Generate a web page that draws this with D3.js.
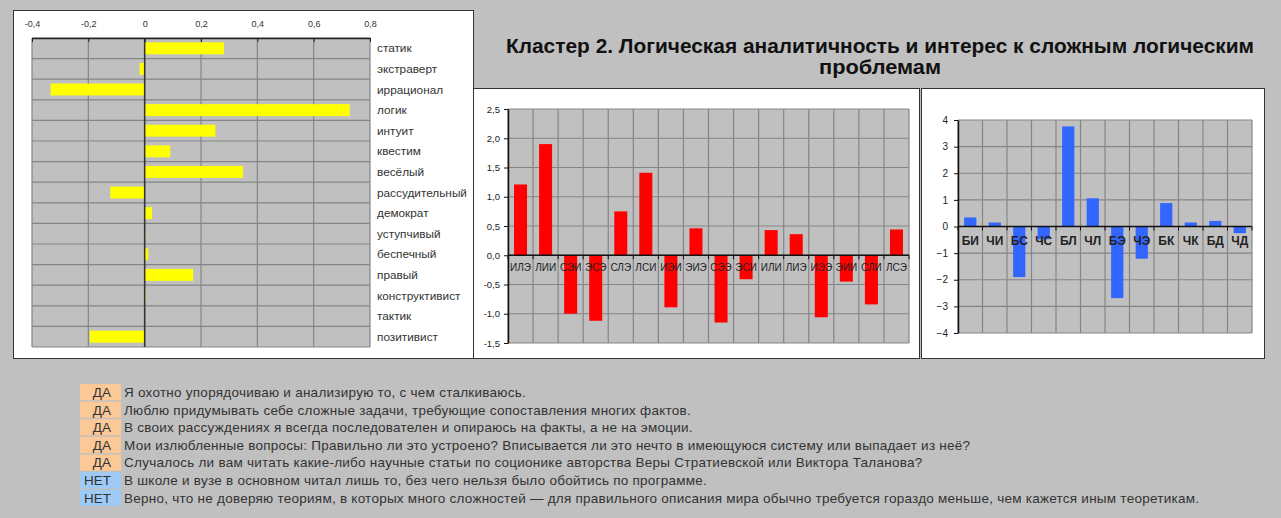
<!DOCTYPE html>
<html>
<head>
<meta charset="utf-8">
<script src="https://cdn.jsdelivr.net/npm/d3@7"></script>
<style>
  body { margin: 0; background: #c0c0c0; }
  svg { display: block; }
</style>
</head>
<body>
<div id="chart"></div>
<script>
(function () {
"use strict";

// Left chart: trait correlations
var traitLabels = ["статик", "экстраверт", "иррационал", "логик", "интуит", "квестим", "весёлый",
                   "рассудительный", "демократ", "уступчивый", "беспечный", "правый",
                   "конструктивист", "тактик", "позитивист"];
var traitValues = [0.282, -0.018, -0.334, 0.728, 0.251, 0.091, 0.349,
                   -0.122, 0.026, 0.002, 0.013, 0.172,
                   0.003, -0.002, -0.195];
var traitTicks = [-0.4, -0.2, 0, 0.2, 0.4, 0.6, 0.8];

// Middle chart: socionic types
var typeLabels = ["ИЛЭ", "ЛИИ", "СЭИ", "ЭСЭ", "СЛЭ", "ЛСИ", "ИЭИ", "ЭИЭ",
                  "СЭЭ", "ЭСИ", "ИЛИ", "ЛИЭ", "ИЭЭ", "ЭИИ", "СЛИ", "ЛСЭ"];
var typeValues = [1.21, 1.90, -1.00, -1.12, 0.75, 1.41, -0.89, 0.46,
                  -1.15, -0.41, 0.43, 0.36, -1.06, -0.45, -0.84, 0.44];
var typeTicks = [-1.5, -1.0, -0.5, 0, 0.5, 1.0, 1.5, 2.0, 2.5];

// Right chart: aspects
var aspectLabels = ["БИ", "ЧИ", "БС", "ЧС", "БЛ", "ЧЛ", "БЭ", "ЧЭ", "БК", "ЧК", "БД", "ЧД"];
var aspectValues = [0.34, 0.15, -1.90, -0.48, 3.76, 1.06, -2.69, -1.21, 0.88, 0.15, 0.21, -0.25];
var aspectTicks = [-4, -3, -2, -1, 0, 1, 2, 3, 4];

// Questionnaire answers
var answerLabels = ["ДА", "ДА", "ДА", "ДА", "ДА", "НЕТ", "НЕТ"];
var answerTexts = [
  "Я охотно упорядочиваю и анализирую то, с чем сталкиваюсь.",
  "Люблю придумывать себе сложные задачи, требующие сопоставления многих фактов.",
  "В своих рассуждениях я всегда последователен и опираюсь на факты, а не на эмоции.",
  "Мои излюбленные вопросы: Правильно ли это устроено? Вписывается ли это нечто в имеющуюся систему или выпадает из неё?",
  "Случалось ли вам читать какие-либо научные статьи по соционике авторства Веры Стратиевской или Виктора Таланова?",
  "В школе и вузе в основном читал лишь то, без чего нельзя было обойтись по программе.",
  "Верно, что не доверяю теориям, в которых много сложностей — для правильного описания мира обычно требуется гораздо меньше, чем кажется иным теоретикам."
];

var titleLines = ["Кластер 2. Логическая аналитичность и интерес к сложным логическим", "проблемам"];

var fontFamily = "Arial, 'Liberation Sans', sans-serif";
var gridColor = "#858585";
var plotBg = "#c0c0c0";

function commaFormat(fmt) {
  var f = d3.format(fmt);
  return function(d) { return f(d).replace(".", ",").replace("−", "-"); };
}

var svg = d3.select("#chart").append("svg")
  .attr("width", 1281)
  .attr("height", 518);

svg.append("rect")
  .attr("width", 1281)
  .attr("height", 518)
  .style("fill", "#c0c0c0");

////////////////////////////////////////////////////////////////////////////////
// Left chart
////////////////////////////////////////////////////////////////////////////////

var left = svg.append("g");

left.append("rect")
  .attr("x", 13.5).attr("y", 10.5)
  .attr("width", 460).attr("height", 348)
  .style("fill", "#fff")
  .style("stroke", "#333");

var tx = d3.scaleLinear().domain([-0.4, 0.8]).range([32, 370]);
var ty = d3.scaleBand().domain(traitLabels).range([38, 347])
  .paddingInner(0.42).paddingOuter(0.21);

left.append("rect")
  .attr("x", tx(-0.4)).attr("y", 38)
  .attr("width", tx(0.8) - tx(-0.4)).attr("height", 309)
  .style("fill", plotBg);

// horizontal grid at row boundaries
left.append("g").selectAll("line")
  .data(d3.range(0, traitLabels.length + 1))
  .enter().append("line")
    .attr("x1", tx(-0.4)).attr("x2", tx(0.8))
    .attr("y1", function(i) { return ty.range()[0] + i * ty.step(); })
    .attr("y2", function(i) { return ty.range()[0] + i * ty.step(); })
    .style("stroke", gridColor).style("stroke-width", 1.2);

// vertical grid
left.append("g").selectAll("line")
  .data(traitTicks)
  .enter().append("line")
    .attr("x1", function(d) { return tx(d); })
    .attr("x2", function(d) { return tx(d); })
    .attr("y1", 38).attr("y2", 347)
    .style("stroke", gridColor).style("stroke-width", 1.2);

left.append("g").selectAll("rect")
  .data(traitValues)
  .enter().append("rect")
    .attr("x", function(d) { return tx(Math.min(0, d)); })
    .attr("y", function(d, i) { return ty(traitLabels[i]); })
    .attr("width", function(d) { return Math.abs(tx(d) - tx(0)); })
    .attr("height", ty.bandwidth())
    .style("fill", "#ffff00");

left.append("line")
  .attr("x1", tx(0)).attr("x2", tx(0))
  .attr("y1", 38).attr("y2", 347)
  .style("stroke", "#333").style("stroke-width", 1.5);

var topAxis = left.append("g")
  .attr("transform", "translate(0,38)")
  .call(d3.axisTop(tx)
    .tickValues(traitTicks)
    .tickFormat(function(d) { return d === 0 ? "0" : commaFormat(".1f")(d); })
    .tickSizeInner(-4)
    .tickSizeOuter(0)
    .tickPadding(11));
topAxis.select(".domain").style("stroke", "#222").style("stroke-width", 1.5);
topAxis.selectAll(".tick line").style("stroke", "#222");
topAxis.selectAll("text")
  .style("font-family", fontFamily).style("font-size", "9px").style("fill", "#333");

left.append("g").selectAll("text")
  .data(traitLabels)
  .enter().append("text")
    .attr("x", 377)
    .attr("y", function(d) { return ty(d) + ty.bandwidth() / 2; })
    .attr("dy", "0.35em")
    .style("font-family", fontFamily)
    .style("font-size", "11.8px")
    .style("fill", "#333")
    .text(function(d) { return d; });

////////////////////////////////////////////////////////////////////////////////
// Title
////////////////////////////////////////////////////////////////////////////////

svg.append("g").selectAll("text")
  .data(titleLines)
  .enter().append("text")
    .attr("x", 880)
    .attr("y", function(d, i) { return 53 + i * 21; })
    .attr("text-anchor", "middle")
    .attr("textLength", function(d, i) { return i === 0 ? 748 : 122; })
    .attr("lengthAdjust", "spacingAndGlyphs")
    .style("font-family", "'Liberation Sans Narrow', " + fontFamily)
    .style("font-weight", "bold")
    .style("font-size", "20px")
    .style("fill", "#111")
    .text(function(d) { return d; });

////////////////////////////////////////////////////////////////////////////////
// Vertical bar chart helper
////////////////////////////////////////////////////////////////////////////////

function columnChart(opts) {
  var g = svg.append("g");

  g.append("rect")
    .attr("x", opts.box[0] + 0.5).attr("y", opts.box[1] + 0.5)
    .attr("width", opts.box[2]).attr("height", opts.box[3])
    .style("fill", "#fff")
    .style("stroke", "#333");

  var x = d3.scaleBand().domain(opts.labels).range([opts.x0, opts.x1])
    .paddingInner(opts.pad).paddingOuter(opts.pad / 2);
  var y = d3.scaleLinear().domain(d3.extent(opts.ticks)).range([opts.y1, opts.y0]);

  g.append("rect")
    .attr("x", opts.x0).attr("y", opts.y0)
    .attr("width", opts.x1 - opts.x0).attr("height", opts.y1 - opts.y0)
    .style("fill", plotBg);

  var bounds = d3.range(0, opts.labels.length + 1).map(function(i) {
    return opts.x0 + i * x.step();
  });

  g.append("g").selectAll("line")
    .data(opts.ticks)
    .enter().append("line")
      .attr("x1", opts.x0).attr("x2", opts.x1)
      .attr("y1", function(d) { return y(d); })
      .attr("y2", function(d) { return y(d); })
      .style("stroke", gridColor).style("stroke-width", 1.2);

  g.append("g").selectAll("line")
    .data(bounds)
    .enter().append("line")
      .attr("x1", function(d) { return d; })
      .attr("x2", function(d) { return d; })
      .attr("y1", opts.y0).attr("y2", opts.y1)
      .style("stroke", gridColor).style("stroke-width", 1.2);

  g.append("g").selectAll("rect")
    .data(opts.values)
    .enter().append("rect")
      .attr("x", function(d, i) { return x(opts.labels[i]); })
      .attr("y", function(d) { return y(Math.max(0, d)); })
      .attr("width", x.bandwidth())
      .attr("height", function(d) { return Math.abs(y(d) - y(0)); })
      .style("fill", opts.color);

  var yAxis = g.append("g")
    .attr("transform", "translate(" + opts.x0 + ",0)")
    .call(d3.axisLeft(y)
      .tickValues(opts.ticks)
      .tickFormat(opts.fmt)
      .tickSizeInner(4)
      .tickSizeOuter(0)
      .tickPadding(opts.tickPad));
  yAxis.select(".domain").style("stroke", "#111").style("stroke-width", 1.5);
  yAxis.selectAll(".tick line").style("stroke", "#111");
  yAxis.selectAll("text")
    .style("font-family", fontFamily).style("font-size", opts.tickFont).style("fill", "#222");

  // zero axis with ticks at band boundaries
  g.append("line")
    .attr("x1", opts.x0).attr("x2", opts.x1)
    .attr("y1", y(0)).attr("y2", y(0))
    .style("stroke", "#111").style("stroke-width", 1.5);

  g.append("g").selectAll("line")
    .data(bounds)
    .enter().append("line")
      .attr("x1", function(d) { return d; })
      .attr("x2", function(d) { return d; })
      .attr("y1", y(0)).attr("y2", y(0) + 4)
      .style("stroke", "#111");

  g.append("g").selectAll("text")
    .data(opts.labels)
    .enter().append("text")
      .attr("x", function(d) { return x(d) + x.bandwidth() / 2; })
      .attr("y", y(0) + opts.labelDy)
      .attr("text-anchor", "middle")
      .style("font-family", fontFamily)
      .style("font-size", opts.labelFont)
      .style("font-weight", opts.labelWeight)
      .style("fill", "#222")
      .text(function(d) { return d; });
}

columnChart({
  box: [473, 88, 446, 270],
  x0: 508, x1: 909, y0: 109, y1: 343,
  labels: typeLabels, values: typeValues, ticks: typeTicks,
  pad: 0.48, color: "#ff0000",
  fmt: commaFormat(".1f"), tickPad: 4, tickFont: "9.5px",
  labelDy: 16, labelFont: "10px", labelWeight: "normal"
});

columnChart({
  box: [921, 88, 343, 270],
  x0: 958, x1: 1252, y0: 120, y1: 333,
  labels: aspectLabels, values: aspectValues, ticks: aspectTicks,
  pad: 0.5, color: "#3366ff",
  fmt: d3.format("d"), tickPad: 6, tickFont: "10px",
  labelDy: 18, labelFont: "12px", labelWeight: "bold"
});

////////////////////////////////////////////////////////////////////////////////
// Answers
////////////////////////////////////////////////////////////////////////////////

var rowY = d3.scaleBand().domain(d3.range(answerTexts.length)).range([384, 506]).paddingInner(0.08);

var rows = svg.append("g").selectAll("g")
  .data(answerTexts)
  .enter().append("g")
    .attr("transform", function(d, i) { return "translate(0," + rowY(i) + ")"; });

rows.append("rect")
  .attr("x", 80).attr("y", 0)
  .attr("width", 41).attr("height", rowY.bandwidth())
  .style("fill", function(d, i) { return answerLabels[i] === "ДА" ? "#fbc897" : "#9ecbf6"; });

rows.append("text")
  .attr("x", 111)
  .attr("y", rowY.bandwidth() / 2)
  .attr("dy", "0.36em")
  .attr("text-anchor", "end")
  .style("font-family", fontFamily)
  .style("font-size", "13.5px")
  .style("fill", "#333")
  .text(function(d, i) { return answerLabels[i]; });

rows.append("text")
  .attr("x", 124)
  .attr("y", rowY.bandwidth() / 2)
  .attr("dy", "0.36em")
  .style("font-family", fontFamily)
  .style("font-size", "13.5px")
  .style("letter-spacing", "0.25px")
  .style("fill", "#333")
  .text(function(d) { return d; });

})();
</script>
</body>
</html>
